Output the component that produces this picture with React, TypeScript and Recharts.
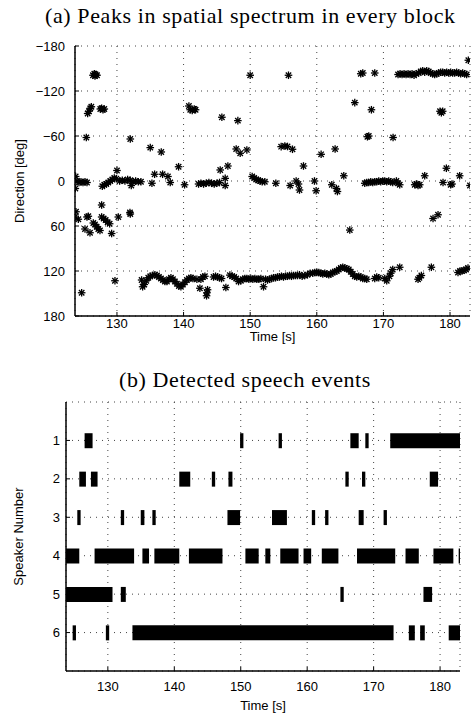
import React from 'react';
import { ScatterChart, Scatter, XAxis, YAxis, CartesianGrid, BarChart, Bar } from 'recharts';

const timeTicks = [130, 140, 150, 160, 170, 180];
const directionTicks = [-180, -120, -60, 0, 60, 120, 180];
const speakerTicks = [1, 2, 3, 4, 5, 6];
const timeDomain: [number, number] = [123.7, 183];

// Peaks: [time s, direction deg]
const peaksRear: [number, number][] = [
  [126.4, -141], [126.6, -143], [126.8, -142], [127.0, -141], [126.7, -140],
  [150.0, -141], [155.75, -141], [166.6, -143], [166.9, -144], [168.7, -144],
  [172.2, -142], [172.5, -143], [172.8, -142], [173.1, -143], [173.4, -142], [173.7, -143],
  [174.0, -142], [174.3, -143], [174.6, -141], [174.9, -143], [175.3, -144], [175.6, -146],
  [175.9, -147], [176.2, -145], [176.5, -147], [176.8, -146], [177.1, -144], [177.4, -143],
  [177.7, -142], [178.0, -143], [178.3, -144], [178.6, -145], [178.9, -145], [179.2, -144],
  [179.5, -145], [179.8, -144], [180.1, -145], [180.4, -144], [180.7, -144], [181.0, -145],
  [181.3, -144], [181.6, -143], [181.9, -144], [182.2, -143], [182.5, -142], [182.75, -161],
];

const peaksLeft: [number, number][] = [
  [125.6, -90], [125.8, -93], [126.0, -97], [126.15, -99], [127.5, -96], [127.7, -97],
  [127.9, -95], [128.1, -96], [140.8, -100], [141.0, -95], [141.3, -94], [141.6, -96],
  [141.8, -95], [145.75, -85], [148.15, -80.5], [165.7, -104.5], [168.2, -95],
  [178.5, -93], [178.7, -91], [178.9, -93],
  [125.4, -58], [132.0, -56], [135.0, -44.5], [136.65, -38.7], [139.25, -19],
  [147.9, -42.7], [148.5, -37], [149.5, -41.4], [145.5, -14.7], [146.65, -20],
  [154.65, -45.8], [155.2, -46.7], [155.6, -46], [156.35, -42.3], [158.0, -20],
  [160.65, -35.6], [162.75, -42.7], [164.05, -7], [167.6, -59], [167.8, -60], [171.45, -58],
  [179.45, -17], [181.45, -7], [176.2, -7],
];

const peaksFront: [number, number][] = [
  [123.8, -6], [123.75, 10], [124.0, 0], [124.3, 2], [124.6, 1], [124.9, 2], [125.2, 1], [125.5, 2],
  [127.8, 7], [128.1, 5], [128.4, 4], [128.7, 2], [129.0, 0], [129.3, -2], [129.6, -4], [129.9, -3], [130.0, -14],
  [130.4, 0], [130.8, -1], [131.2, 0], [131.6, -2], [132.0, -1], [132.4, 1], [132.8, 0], [133.2, 1], [133.6, 1],
  [132.15, 6], [135.25, 3], [135.65, -9], [136.85, -9], [137.65, -6], [138.0, 2], [140.15, 5],
  [142.25, 4], [142.6, 3], [143.0, 4], [143.4, 3], [143.8, 2], [144.2, 3], [144.6, 4], [145.0, 3], [145.4, 2],
  [146.25, -3.5], [146.25, 6],
  [150.3, -6], [150.6, -4], [150.9, -2], [151.2, -1], [151.5, 0], [151.8, 1], [152.2, 1],
  [153.85, 3], [156.0, 6], [156.9, 0], [157.25, 4], [157.4, 12], [159.65, 0], [159.9, 13],
  [162.25, 5], [162.95, 10], [163.1, 14],
  [167.2, 3], [167.5, 2], [167.8, 2], [168.1, 1], [168.4, 2], [168.7, 1], [169.0, 1], [169.3, 0],
  [169.6, 1], [169.9, 0], [170.2, 0], [170.5, 1], [170.8, 0], [171.1, 1], [171.4, 2], [171.95, 0],
  [172.2, 3], [172.45, 5],
  [174.7, 5], [174.95, 4], [175.2, 6], [175.45, 5], [178.95, 2], [180.1, 5], [180.3, 4], [183.0, 6],
];

const peaksRightSide: [number, number][] = [
  [123.85, 41], [123.7, 48], [124.2, 51], [125.2, 64], [125.5, 48], [125.7, 47], [125.95, 69],
  [126.45, 56], [126.7, 58], [126.95, 61], [127.2, 64], [127.45, 66], [127.7, 32], [127.7, 48],
  [128.0, 50], [128.3, 52], [128.6, 55], [128.9, 57], [129.2, 70], [130.2, 48], [132.0, 44], [131.95, 42],
  [164.95, 65.4], [177.45, 50], [178.2, 45],
];

const peaksRightRear: [number, number][] = [
  [124.7, 149], [129.7, 133],
  [133.7, 132], [133.85, 141], [134.1, 138], [134.4, 133], [134.7, 129], [135.0, 127], [135.3, 126],
  [135.7, 125], [136.0, 126], [136.3, 128], [136.6, 130], [136.9, 132], [137.2, 134], [137.5, 134],
  [137.8, 131], [138.1, 129], [138.4, 131], [138.7, 134], [139.0, 137], [139.3, 140], [139.6, 141],
  [139.9, 138], [140.2, 135], [140.5, 132], [140.8, 130], [141.1, 129], [141.4, 130], [142.0, 131],
  [142.45, 143], [142.6, 131], [142.9, 128], [143.2, 127], [143.45, 153], [143.5, 149], [143.6, 145],
  [144.5, 128], [144.8, 127], [145.1, 128], [145.4, 129], [145.7, 130], [146.35, 142], [146.95, 125.5],
  [147.3, 127], [147.6, 128], [147.9, 130], [148.25, 134], [148.6, 133], [148.9, 131], [149.2, 130],
  [149.5, 130], [149.8, 131], [150.1, 130], [150.4, 131], [150.7, 130], [151.0, 131], [151.3, 131],
  [151.6, 130], [152.0, 141], [152.3, 131], [152.6, 132], [152.9, 131], [153.2, 130], [153.5, 129],
  [153.8, 129], [154.1, 128], [154.4, 128], [154.7, 127], [155.0, 128], [155.3, 127], [155.6, 127],
  [155.9, 126], [156.2, 127], [156.5, 126], [156.8, 126], [157.1, 126], [157.4, 125], [157.8, 127],
  [158.2, 126], [158.6, 125], [159.0, 123], [159.4, 123], [159.7, 122], [160.0, 122], [160.3, 122],
  [160.6, 123], [160.9, 124], [161.2, 123], [161.5, 124], [161.8, 125], [162.1, 124], [162.4, 122],
  [162.7, 121], [163.0, 120], [163.3, 118], [163.6, 116], [163.9, 115], [164.2, 116], [164.5, 117],
  [164.8, 118], [165.1, 121], [165.4, 124], [165.7, 127], [166.0, 128], [166.3, 127], [166.6, 128],
  [166.9, 130], [167.2, 130], [167.5, 131], [168.7, 130], [169.0, 128], [169.3, 129], [170.2, 130],
  [170.5, 133], [170.9, 127], [171.1, 123], [171.4, 118], [172.45, 115], [175.2, 131], [175.4, 129],
  [175.7, 126], [177.2, 115], [181.2, 122], [181.5, 120], [181.8, 120], [182.1, 119], [182.4, 118], [182.7, 116],
];

const peakPoints = [...peaksRear, ...peaksLeft, ...peaksFront, ...peaksRightSide, ...peaksRightRear]
  .map(([t, d]) => ({ t, d }));

// Detected speech events per speaker: [start s, end s]
const speaker1Events: [number, number][] = [[126.5, 127.7], [149.9, 150.4], [155.7, 156.2], [166.5, 167.75], [168.75, 169.25], [172.5, 183]];
const speaker2Events: [number, number][] = [[125.7, 126.7], [127.45, 128.45], [140.75, 142.4], [145.65, 146.15], [148.15, 148.75], [165.75, 166.25], [168.25, 168.75], [178.45, 179.7]];
const speaker3Events: [number, number][] = [[125.4, 125.9], [131.95, 132.45], [134.95, 135.5], [136.7, 137.2], [148.0, 149.9], [154.7, 156.95], [160.7, 161.2], [162.7, 163.2], [167.75, 168.5], [171.5, 172.0]];
const speaker4Events: [number, number][] = [[123.7, 125.7], [128.0, 133.95], [135.2, 136.2], [137.0, 140.75], [142.2, 147.25], [150.7, 152.7], [153.7, 154.45], [155.95, 158.7], [159.45, 160.6], [162.2, 164.7], [167.5, 173.25], [174.8, 176.8], [179.0, 182.0], [182.8, 183]];
const speaker5Events: [number, number][] = [[123.7, 130.7], [131.95, 132.7], [165.0, 165.5], [177.5, 178.8]];
const speaker6Events: [number, number][] = [[124.7, 125.2], [129.7, 130.2], [133.7, 173.0], [175.3, 176.2], [177.0, 177.7], [181.3, 183]];

const allSpeakers = [speaker1Events, speaker2Events, speaker3Events, speaker4Events, speaker5Events, speaker6Events];
const speechRows = allSpeakers.flatMap((segs, i) => segs.map(([a, b]) => ({ speaker: i + 1, span: [a, b] })));

const SANS = '"Liberation Sans", Arial, Helvetica, sans-serif';
const SERIF = '"Liberation Serif", "Times New Roman", serif';
const tickStyle = { fill: '#000', fontSize: 13, fontFamily: SANS };
const axisLineStyle = { stroke: '#000', strokeWidth: 1.5 };
const tickLineStyle = { stroke: '#000', strokeWidth: 1 };

const minusFmt = (v: number) => (v < 0 ? '\u2212' + Math.abs(v) : String(v));

const Asterisk = (props: any) => {
  const { cx, cy } = props;
  if (cx == null || cy == null) return null;
  const r = 3.8;
  const q = 2.7;
  return (
    <g stroke="#000" strokeWidth={1.3}>
      <line x1={cx - r} y1={cy} x2={cx + r} y2={cy} />
      <line x1={cx} y1={cy - r} x2={cx} y2={cy + r} />
      <line x1={cx - q} y1={cy - q} x2={cx + q} y2={cy + q} />
      <line x1={cx - q} y1={cy + q} x2={cx + q} y2={cy - q} />
    </g>
  );
};

export default function App() {
  return (
    <div style={{ position: 'absolute', left: 0, top: 0, width: 472, height: 717, background: '#fff', overflow: 'hidden' }}>
      <div style={{ position: 'absolute', left: 45, top: 4.6, width: 400, textAlign: 'center', fontFamily: SERIF, fontSize: 22, lineHeight: '22px', letterSpacing: 0.6, color: '#000', whiteSpace: 'nowrap' }}>
        (a) Peaks in spatial spectrum in every block
      </div>
      <div style={{ position: 'absolute', left: 0, top: 0 }}>
        <ScatterChart width={472} height={350} margin={{ top: 46, right: 2, bottom: 0, left: 0 }}>
          <CartesianGrid stroke="#444" strokeDasharray="1 5" strokeWidth={1} />
          <XAxis type="number" dataKey="t" domain={timeDomain} ticks={timeTicks} allowDataOverflow
            height={34} tickSize={-4} tickMargin={7} tickLine={tickLineStyle} axisLine={axisLineStyle} tick={tickStyle}
            label={{ value: 'Time [s]', position: 'insideBottom', offset: 9, style: { fontSize: 13, fontFamily: SANS, fill: '#000' } }} />
          <XAxis xAxisId="top" orientation="top" type="number" domain={timeDomain} ticks={timeTicks} allowDataOverflow
            height={0} tickSize={-4} tick={false} tickLine={tickLineStyle} axisLine={axisLineStyle} />
          <YAxis type="number" dataKey="d" domain={[-180, 180]} ticks={directionTicks} reversed allowDataOverflow
            width={75} tickSize={-4} tickMargin={14} tickLine={tickLineStyle} axisLine={axisLineStyle} tick={tickStyle}
            tickFormatter={minusFmt}
            label={{ value: 'Direction [deg]', angle: -90, position: 'insideLeft', offset: 19, style: { textAnchor: 'middle', fontSize: 13, fontFamily: SANS, fill: '#000' } }} />
          <YAxis yAxisId="right" orientation="right" type="number" domain={[-180, 180]} ticks={directionTicks} reversed
            width={0} tickSize={-4} tick={false} tickLine={tickLineStyle} axisLine={axisLineStyle} />
          <Scatter data={peakPoints} shape={Asterisk} isAnimationActive={false} />
        </ScatterChart>
      </div>
      <div style={{ position: 'absolute', left: 45, top: 369, width: 400, textAlign: 'center', fontFamily: SERIF, fontSize: 22, lineHeight: '22px', letterSpacing: 0.6, color: '#000', whiteSpace: 'nowrap' }}>
        (b) Detected speech events
      </div>
      <div style={{ position: 'absolute', left: 0, top: 392 }}>
        <BarChart layout="vertical" width={472} height={325} data={speechRows} barSize={15}
          margin={{ top: 10, right: 12, bottom: 0, left: 0 }}>
          <CartesianGrid stroke="#444" strokeDasharray="1 5" strokeWidth={1} />
          <XAxis type="number" domain={timeDomain} ticks={timeTicks} allowDataOverflow
            height={46} tickSize={-4} tickMargin={15} tickLine={tickLineStyle} axisLine={axisLineStyle} tick={tickStyle}
            label={{ value: 'Time [s]', position: 'insideBottom', offset: 7, style: { fontSize: 13, fontFamily: SANS, fill: '#000' } }} />
          <XAxis xAxisId="top" orientation="top" type="number" domain={timeDomain} ticks={timeTicks} allowDataOverflow
            height={0} tickSize={-4} tick={false} tickLine={tickLineStyle} axisLine={axisLineStyle} />
          <YAxis type="number" dataKey="speaker" domain={[0, 7]} ticks={speakerTicks} allowDataOverflow
            width={66} tickSize={-4} tickMargin={10} tickLine={tickLineStyle} axisLine={axisLineStyle} tick={tickStyle}
            label={{ value: 'Speaker Number', angle: -90, position: 'insideLeft', offset: 18, style: { textAnchor: 'middle', fontSize: 13, fontFamily: SANS, fill: '#000' } }} />
          <YAxis yAxisId="right" orientation="right" type="number" domain={[0, 7]} ticks={speakerTicks}
            width={0} tickSize={-4} tick={false} tickLine={tickLineStyle} axisLine={axisLineStyle} />
          <Bar dataKey="span" fill="#000" isAnimationActive={false} />
        </BarChart>
      </div>
    </div>
  );
}
